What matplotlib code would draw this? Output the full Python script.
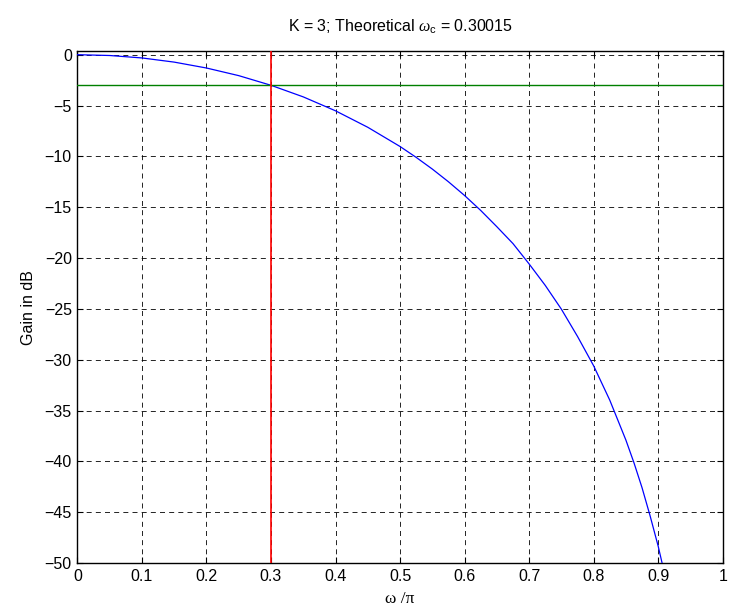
import numpy as np
import matplotlib
matplotlib.use("Agg")
from matplotlib import pyplot as plt

plt.rcParams["font.family"] = ["Liberation Sans", "DejaVu Sans"]
plt.rcParams["mathtext.fontset"] = "custom"
plt.rcParams["mathtext.rm"] = "Liberation Serif"
plt.rcParams["mathtext.it"] = "Liberation Serif:italic"
plt.rcParams["mathtext.sf"] = "Liberation Sans"

# values
w_norm = [0.0, 0.05, 0.1, 0.15, 0.2, 0.25, 0.3, 0.35, 0.4, 0.45, 0.5, 0.525,
          0.55, 0.575, 0.6, 0.625, 0.65, 0.675, 0.7, 0.725, 0.75, 0.775, 0.8,
          0.825, 0.85, 0.8625, 0.875, 0.8875, 0.9, 0.91]
gain_db = [0.0, -0.08, -0.32, -0.73, -1.31, -2.06, -3.01, -4.15, -5.52, -7.14,
           -9.03, -10.10, -11.25, -12.50, -13.85, -15.32, -16.92, -18.58,
           -20.58, -22.69, -25.03, -27.71, -30.60, -33.98, -37.91, -40.14,
           -42.59, -45.36, -48.34, -51.07]
cutoff_db = -3
wc = 0.30015
x_ticks = [0, 0.1, 0.2, 0.3, 0.4, 0.5, 0.6, 0.7, 0.8, 0.9, 1]
y_ticks = [0, -5, -10, -15, -20, -25, -30, -35, -40, -45, -50]

fig = plt.figure(figsize=(7.30, 6.16), dpi=100)
ax = fig.add_axes([0.106, 0.086, 0.884, 0.831])
ax.set_axisbelow(True)

ax.plot(w_norm, gain_db, color="blue", lw=0.9, zorder=3)
ax.axhline(cutoff_db, color=(0, 0.5, 0), lw=1.0, zorder=3)
ax.axvline(wc, color="red", lw=1.2, zorder=4)

ax.set_xlim(0, 1)
ax.set_ylim(-50, 0.35)
ax.set_xticks(x_ticks)
ax.set_xticklabels([("%g" % t) for t in x_ticks])
ax.set_yticks(y_ticks)
ax.grid(True, color="black", linestyle=(0, (6, 5)), lw=0.6)
ax.tick_params(direction="in", length=4, width=0.8, labelsize=11.5,
               top=True, right=True, pad=4)
for s in ax.spines.values():
    s.set_linewidth(1.0)

ax.set_title(r"K = 3; Theoretical $\omega_{\mathsf{c}}$ = 0.30015", fontsize=11.5, pad=14)
ax.set_ylabel("Gain in dB", fontsize=11.5, labelpad=6)
ax.set_xlabel("\u03c9 /\u03c0", fontsize=12.5, family=["Liberation Serif"], labelpad=5)

fig.savefig("out.png", dpi=100)
